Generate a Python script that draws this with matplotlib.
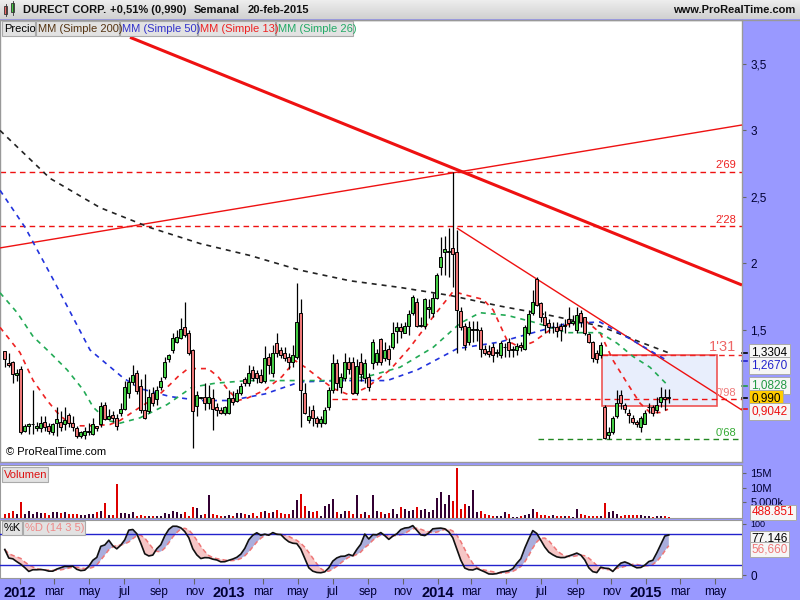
import numpy as np
import pandas as pd
import matplotlib
matplotlib.use("Agg")
import matplotlib.pyplot as plt
from matplotlib.patches import Rectangle

plt.rcParams['font.family'] = ['Liberation Sans', 'DejaVu Sans']

# ---------------- data ----------------
title_parts = ["DURECT CORP.", "+0,51% (0,990)", "Semanal", "20-feb-2015"]
last_date = "2015-02-20"

opens = [
1.34,1.25,1.26,1.16,1.21,0.74,0.78,0.79,0.76,0.76,
0.81,0.78,0.73,0.80,0.81,0.79,0.86,0.80,0.76,0.70,
0.71,0.73,0.72,0.78,0.79,0.94,0.83,0.86,0.84,0.88,
0.91,1.03,1.11,1.18,1.08,0.90,0.89,1.03,0.98,1.07,
1.15,1.28,1.35,1.41,1.44,1.52,1.48,1.35,0.93,0.99,
1.00,0.95,0.99,0.92,0.90,0.88,0.88,0.99,0.97,1.03,
1.13,1.10,1.20,1.18,1.16,1.12,1.30,1.18,1.40,1.35,
1.33,1.30,1.26,1.30,1.63,1.03,0.82,0.90,0.84,0.80,
0.80,0.92,1.05,1.25,1.07,1.14,1.26,1.26,1.03,1.26,
1.14,1.15,1.25,1.26,1.43,1.29,1.36,1.37,1.49,1.52,
1.48,1.53,1.63,1.71,1.53,1.53,1.66,1.63,1.74,1.97,
2.09,2.09,2.12,2.09,1.64,1.53,1.41,1.50,1.50,1.50,
1.36,1.34,1.37,1.33,1.31,1.37,1.41,1.35,1.35,1.39,
1.36,1.48,1.63,1.88,1.70,1.60,1.55,1.52,1.52,1.53,
1.53,1.58,1.55,1.50,1.63,1.60,1.47,1.41,1.33,1.31,
0.92,0.71,0.73,0.85,1.01,0.94,0.88,0.84,0.81,0.77,
0.79,0.92,0.92,0.90,0.96,1.00,1.00]
highs = [
1.34,1.33,1.27,1.21,1.23,0.79,0.80,1.05,0.81,0.85,
0.85,0.80,0.80,0.92,0.89,0.92,0.88,0.85,0.78,0.74,
0.77,0.80,0.84,0.78,0.96,0.96,0.91,0.89,0.87,0.95,
1.12,1.15,1.24,1.20,1.13,1.17,1.06,1.07,1.08,1.15,
1.30,1.32,1.48,1.50,1.59,1.71,1.50,1.36,1.04,1.00,
1.10,1.09,1.06,0.95,0.92,0.93,1.05,1.04,1.06,1.10,
1.15,1.24,1.23,1.20,1.21,1.38,1.33,1.39,1.48,1.37,
1.37,1.33,1.39,1.85,1.73,1.10,0.93,0.94,0.85,0.85,
0.92,1.07,1.32,1.28,1.18,1.33,1.30,1.30,1.28,1.33,
1.28,1.18,1.43,1.36,1.44,1.41,1.39,1.56,1.56,1.55,
1.56,1.65,1.76,1.74,1.60,1.74,1.73,1.78,1.93,2.20,
2.21,2.27,2.69,2.25,1.67,1.55,1.57,1.57,1.57,1.52,
1.39,1.39,1.40,1.36,1.42,1.40,1.44,1.38,1.40,1.41,
1.54,1.65,1.80,1.90,1.71,1.64,1.58,1.56,1.56,1.55,
1.58,1.67,1.61,1.67,1.65,1.60,1.48,1.42,1.35,1.41,
0.94,0.77,0.85,1.05,1.05,0.95,0.91,0.86,0.82,0.85,
0.90,0.95,0.94,1.00,1.07,1.06,1.06]
lows = [
1.22,1.22,1.10,1.12,0.72,0.73,0.72,0.72,0.74,0.73,
0.74,0.72,0.71,0.70,0.74,0.75,0.77,0.74,0.69,0.69,
0.68,0.71,0.71,0.74,0.77,0.82,0.82,0.81,0.75,0.85,
0.90,0.99,1.09,1.02,0.88,0.83,0.88,0.93,0.94,1.05,
1.13,1.26,1.33,1.40,1.43,1.45,1.31,0.61,0.85,0.98,
0.90,0.91,0.75,0.85,0.87,0.86,0.87,0.94,0.96,1.01,
1.08,1.08,1.12,1.10,1.10,1.10,1.17,1.15,1.30,1.29,
1.27,1.21,1.22,1.28,0.77,0.87,0.80,0.78,0.77,0.77,
0.79,0.90,1.03,1.05,1.03,1.12,1.17,1.02,1.01,1.12,
1.10,1.04,1.21,1.24,1.24,1.27,1.24,1.36,1.40,1.44,
1.48,1.46,1.61,1.52,1.52,1.51,1.59,1.60,1.73,1.91,
1.91,1.90,1.82,1.33,1.50,1.35,1.39,1.41,1.42,1.30,
1.31,1.30,1.26,1.30,1.29,1.30,1.30,1.30,1.31,1.34,
1.35,1.46,1.61,1.68,1.56,1.48,1.48,1.48,1.45,1.42,
1.48,1.52,1.54,1.48,1.52,1.46,1.40,1.26,1.25,1.29,
0.68,0.68,0.72,0.84,0.91,0.88,0.80,0.79,0.77,0.73,
0.79,0.88,0.85,0.88,0.92,0.90,0.95]
closes = [
1.28,1.24,1.17,1.18,0.73,0.78,0.79,0.79,0.78,0.80,
0.77,0.74,0.79,0.83,0.77,0.82,0.80,0.77,0.70,0.73,
0.74,0.74,0.79,0.76,0.93,0.83,0.85,0.84,0.78,0.91,
1.07,1.11,1.16,1.04,0.90,0.84,1.00,0.95,1.05,1.12,
1.26,1.31,1.44,1.45,1.51,1.46,1.33,0.89,1.01,1.00,
0.95,1.00,0.91,0.90,0.88,0.92,0.99,0.96,1.03,1.08,
1.10,1.18,1.14,1.14,1.11,1.29,1.24,1.33,1.33,1.31,
1.29,1.26,1.31,1.56,1.05,0.88,0.85,0.84,0.80,0.83,
0.90,1.05,1.25,1.10,1.15,1.26,1.21,1.03,1.23,1.17,
1.25,1.07,1.41,1.33,1.26,1.35,1.28,1.48,1.52,1.49,
1.53,1.62,1.75,1.53,1.53,1.73,1.67,1.74,1.91,2.05,
2.11,2.09,2.07,1.65,1.52,1.39,1.52,1.50,1.51,1.36,
1.33,1.32,1.31,1.33,1.40,1.37,1.35,1.35,1.38,1.37,
1.52,1.62,1.71,1.69,1.60,1.54,1.52,1.52,1.49,1.50,
1.53,1.55,1.57,1.61,1.56,1.48,1.41,1.29,1.28,1.39,
0.69,0.73,0.84,0.95,0.95,0.91,0.86,0.81,0.79,0.84,
0.88,0.92,0.88,0.94,1.00,0.985,0.99]
volume_m = [
1.3,1.7,2.4,1.3,5.2,1.3,2.2,1.3,1.9,1.7,
1.7,1.1,1.9,1.9,1.7,1.9,1.3,1.3,1.3,1.1,
1.1,1.3,1.3,1.9,2.2,5.0,1.1,1.1,11.3,1.7,
1.7,1.3,1.9,0.8,1.1,0.8,0.6,0.8,0.6,0.8,
1.7,1.3,2.2,1.9,1.3,1.9,0.8,3.6,3.3,1.1,
1.3,7.6,1.3,1.1,0.8,0.8,1.1,0.8,1.7,1.7,
1.3,1.1,1.7,0.8,1.9,2.4,1.7,1.9,2.8,1.7,
1.3,1.3,2.8,6.1,8.0,4.1,2.4,1.9,2.2,0.6,
4.1,4.7,6.3,1.9,1.3,2.4,2.2,1.3,7.6,1.3,
1.9,1.1,7.6,2.4,1.9,1.3,1.7,3.0,1.3,3.6,
3.1,2.4,2.8,3.6,2.8,3.1,1.9,2.6,6.7,8.6,
4.7,7.8,5.6,16.7,3.1,4.7,3.9,9.2,1.9,2.4,
1.4,1.1,0.8,0.6,0.6,1.9,1.3,0.2,0.2,0.6,
1.1,1.4,3.1,1.9,1.1,1.1,0.8,1.1,0.8,0.6,
0.8,0.6,0.2,3.1,1.4,1.1,0.8,0.8,0.6,0.6,
5.0,1.9,2.4,1.4,0.6,1.1,1.1,1.1,1.1,1.1,
0.6,0.6,0.2,0.6,0.6,0.6,0.488851]

# moving averages (week number since first bar, value)
ma200_wk = [-1.2, 11.3, 23.8, 36.3, 48.8, 61.3, 73.8, 86.3, 98.8, 111.3, 123.8, 136.3, 148.8, 158.8, 165.8]
ma200_val = [3.00, 2.64, 2.42, 2.27, 2.15, 2.06, 1.95, 1.87, 1.82, 1.76, 1.68, 1.61, 1.53, 1.41, 1.3304]
ma50_wk = [-1.2, 5.1, 12.1, 21.3, 29.6, 33.8, 41.3, 48.8, 56.3, 65.1, 73.8, 83.8, 95.6, 103.1, 113.1, 123.8, 132.1, 140.6, 148.8, 157.1, 165.8]
ma50_val = [2.55, 2.27, 1.88, 1.35, 1.14, 1.06, 1.00, 0.97, 0.97, 1.02, 1.11, 1.12, 1.12, 1.20, 1.36, 1.41, 1.48, 1.55, 1.56, 1.42, 1.267]
ma13_wk = [-1.2, 3.8, 7.1, 10.6, 13.1, 15.6, 18.1, 22.1, 26.3, 28.8, 33.8, 38.1, 41.3, 43.3, 45.8, 50.8, 53.3, 55.8, 58.3, 60.8,
           65.1, 69.3, 72.6, 75.1, 78.1, 82.1, 86.3, 90.6, 96.3, 101.3, 107.1, 112.1, 115.6, 119.6, 122.1, 125.6, 128.8, 132.1,
           136.3, 140.6, 145.6, 148.8, 152.1, 155.6, 158.8, 161.3, 163.8, 165.8]
ma13_val = [1.52, 1.33, 1.12, 0.97, 0.88, 0.81, 0.78, 0.78, 0.79, 0.82, 0.92, 1.00, 1.09, 1.15, 1.21, 1.21, 1.15, 1.05, 0.97, 0.99,
            1.05, 1.15, 1.27, 1.22, 1.15, 1.06, 1.01, 1.07, 1.20, 1.37, 1.60, 1.79, 1.76, 1.73, 1.65, 1.42, 1.37, 1.41,
            1.50, 1.54, 1.56, 1.48, 1.27, 1.10, 0.95, 0.88, 0.88, 0.9042]
ma26_wk = [-1.2, 3.1, 7.1, 11.3, 15.6, 19.6, 22.1, 25.6, 28.8, 33.8, 40.6, 46.8, 52.6, 60.8, 69.3, 81.8, 90.6, 98.8, 107.1,
           113.8, 118.8, 125.6, 132.1, 140.6, 148.8, 153.1, 157.1, 161.3, 165.8]
ma26_val = [1.78, 1.63, 1.45, 1.33, 1.20, 1.05, 0.92, 0.82, 0.80, 0.84, 0.94, 1.07, 1.10, 1.12, 1.12, 1.12, 1.15, 1.22, 1.37,
            1.55, 1.63, 1.61, 1.56, 1.48, 1.48, 1.40, 1.30, 1.22, 1.0828]

# drawn trendlines
trend_wk0 = [31.3, -1.2, 113.0]
trend_p0 = [3.70, 2.117, 2.267]
trend_wk1 = [184.3, 184.3, 184.3]
trend_p1 = [1.838, 3.041, 0.898]
trend_lw = [2.2, 1.0, 1.0]

# horizontal levels
level_val = [2.69, 2.28, 1.31, 0.98, 0.68]
level_label = ["2'69", "2'28", "1'31", "0'98", "0'68"]
level_start_wk = [-1.2, -1.2, 149.3, 81.8, 133.3]
level_color = ['#ee1111', '#ee1111', '#ee2222', '#ee1111', '#228822']
level_text_color = ['#ee2222', '#ee2222', '#ee6666', '#ee7777', '#33aa33']

# range box
box_wk = [149.3, 178.1]
box_price = [0.93, 1.31]

# last values shown on the right axis
last_vals = [1.3304, 1.2670, 1.0828, 0.990, 0.9042]
last_txt = ['1,3304', '1,2670', '1,0828', '0,990', '0,9042']
last_col = ['#000000', '#2222cc', '#229944', '#000000', '#ee1111']
vol_last_txt = '488.851'
stoch_last_txt = ['77,146', '56,660']

legend_tabs = ["Precio", "MM (Simple 200)", "MM (Simple 50)", "MM (Simple 13)", "MM (Simple 26)"]
legend_cols = ['#000000', '#553311', '#3333cc', '#ee2222', '#22aa66']

month_names = {1: None, 3: 'mar', 5: 'may', 7: 'jul', 9: 'sep', 11: 'nov'}

# ---------------- derived ----------------
n = len(closes)
dates = pd.date_range(end=last_date, periods=n, freq='W-FRI')
wk = np.arange(n)
o = np.array(opens); h = np.array(highs); l = np.array(lows); c = np.array(closes)
up = c >= o

sh, sl, sc = pd.Series(h), pd.Series(l), pd.Series(c)
hh = sh.rolling(14, min_periods=1).max()
ll = sl.rolling(14, min_periods=1).min()
raw = 100 * (sc - ll) / (hh - ll)
stoch_k = raw.rolling(3, min_periods=1).mean().values
stoch_d = pd.Series(stoch_k).rolling(5, min_periods=1).mean().values

XL = (-1.2, 184.3)
LAV = '#9999ff'
BOXFC = '#f6f6f6'

fig = plt.figure(figsize=(8, 6), dpi=100, facecolor=LAV)

def rect_px(x0, y0, x1, y1):
    return [x0 / 800, 1 - y1 / 600, (x1 - x0) / 800, (y1 - y0) / 600]

# title bar
axt = fig.add_axes(rect_px(0, 0, 800, 19))
grad = np.linspace(0.93, 0.82, 19)[:, None, None] * np.ones((19, 2, 3))
axt.imshow(grad, aspect='auto', extent=(0, 800, 19, 0))
axt.set_xlim(0, 800); axt.set_ylim(19, 0)
axt.axis('off')
axt.add_patch(Rectangle((4, 6), 3, 8, fc='#ee6666', ec='#333333', lw=0.6))
axt.plot([5.5, 5.5], [4, 16], color='#333333', lw=0.6)
axt.add_patch(Rectangle((11, 3), 3, 9, fc='#44cc44', ec='#333333', lw=0.6))
axt.plot([12.5, 12.5], [1, 15], color='#333333', lw=0.6)
for xp, t in zip([23, 110, 194, 248], title_parts):
    axt.text(xp, 10, t, fontsize=8, fontweight='bold', va='center', ha='left', color='#111111')
axt.text(795, 10, "www.ProRealTime.com", fontsize=8, fontweight='bold', va='center', ha='right', color='#111111')
fig.add_artist(plt.Line2D([0, 1], [1 - 19.5 / 600] * 2, color='#999999', lw=1, transform=fig.transFigure))

# ---------------- price panel ----------------
ax = fig.add_axes(rect_px(0, 20, 742, 462))
ax.set_facecolor('white')
ax.set_xlim(*XL)
ax.set_ylim(0.508, 3.83)
for s in ax.spines.values():
    s.set_color('#999999'); s.set_linewidth(1)
ax.set_xticks([])
ax.yaxis.tick_right()
yt = [1.5, 2, 2.5, 3, 3.5]
ax.set_yticks(yt)
ax.set_yticklabels([('%g' % v).replace('.', ',') for v in yt])
ax.tick_params(axis='y', length=3, color='#666666', labelsize=8.5, pad=3, labelcolor='#000033')

ax.add_patch(Rectangle((box_wk[0], box_price[0]), box_wk[1] - box_wk[0], box_price[1] - box_price[0],
                       fc='#e8eefc', ec='#ee5555', lw=1.2, zorder=1))

for v, s0, col in zip(level_val, level_start_wk, level_color):
    ax.plot([s0, XL[1]], [v, v], color=col, lw=1, ls=(0, (4, 3)), zorder=2)
for v, lab, tc in zip(level_val, level_label, level_text_color):
    big = lab == "1'31"
    ax.text(182.8, v + 0.012, lab, color=tc, fontsize=10.5 if big else 8, ha='right', va='bottom', zorder=6)

for x0, p0, x1, p1, lw in zip(trend_wk0, trend_p0, trend_wk1, trend_p1, trend_lw):
    ax.plot([x0, x1], [p0, p1], color='#ee1111', lw=lw, zorder=3, solid_capstyle='butt')

for xs, ys, col in [(ma200_wk, ma200_val, '#222222'), (ma50_wk, ma50_val, '#2233dd'),
                    (ma13_wk, ma13_val, '#ee2222'), (ma26_wk, ma26_val, '#22aa55')]:
    ax.plot(xs, ys, color=col, lw=1.2, ls=(0, (3, 3)), zorder=3)

# candles
ax.vlines(wk, l, h, color='black', lw=0.9, zorder=4)
body_h = np.maximum(np.abs(c - o), 0.004)
ax.bar(wk, body_h, bottom=np.minimum(o, c), width=0.72,
       color=np.where(up, '#44cc44', '#ee7777'), edgecolor='black', linewidth=0.7, zorder=5)

ax.text(0.3, 0.545, "© ProRealTime.com", fontsize=8, ha='left', va='bottom', color='#000000', zorder=6)

# right-axis value boxes, pushed apart so they do not overlap
ytr = ax.get_yaxis_transform()
min_gap = 0.098
label_y = []
for v in last_vals:
    y = v if not label_y else min(v, label_y[-1] - min_gap)
    label_y.append(y)
for v, ly, t, col in zip(last_vals, label_y, last_txt, last_col):
    fc = '#ffcc00' if t == '0,990' else BOXFC
    ax.plot([1.0, 1.007], [v, v], color=col, lw=1.2, transform=ytr, clip_on=False)
    ax.text(1.0125, ly, t, transform=ytr, color=col, fontsize=8.5, va='center', ha='left', clip_on=False, zorder=10,
            bbox=dict(boxstyle='square,pad=0.2', fc=fc, ec='#aaaaaa', lw=0.7))

# legend tabs
tab_x = [2, 36, 120, 198, 276, 354]
for i, (lab, col) in enumerate(zip(legend_tabs, legend_cols)):
    fig.add_artist(Rectangle((tab_x[i] / 800, 1 - 36 / 600), (tab_x[i + 1] - tab_x[i] - 1) / 800, 15 / 600,
                             transform=fig.transFigure, fc='#e2e2e2', ec='#aaaaaa', lw=0.8, zorder=5))
    fig.text((tab_x[i] + 2) / 800, 1 - 28.5 / 600, lab, color=col, fontsize=8, va='center', ha='left', zorder=6)

# ---------------- volume panel ----------------
axv = fig.add_axes(rect_px(0, 465, 742, 518))
axv.set_facecolor('white')
axv.set_xlim(*XL)
axv.set_ylim(0, 17.67)
for s in axv.spines.values():
    s.set_color('#999999')
axv.set_xticks([])
axv.bar(wk, volume_m, width=0.5, color=np.where(up, '#330033', '#dd0000'), zorder=3)
axv.yaxis.tick_right()
axv.set_yticks([5.4, 10, 15])
axv.set_yticklabels(['5.000k', '10M', '15M'])
axv.tick_params(axis='y', length=3, color='#666666', labelsize=8, pad=3, labelcolor='#000033')
vtr = axv.get_yaxis_transform()
axv.text(1.0125, 1.9, vol_last_txt, transform=vtr, color='#ee1111', fontsize=8.5, va='center', ha='left', clip_on=False,
         zorder=10, bbox=dict(boxstyle='square,pad=0.15', fc=BOXFC, ec='#aaaaaa', lw=0.7))
fig.add_artist(Rectangle((2 / 800, 1 - 482 / 600), 46 / 800, 15 / 600, transform=fig.transFigure,
                         fc='#e2e2e2', ec='#aaaaaa', lw=0.8, zorder=5))
fig.text(4 / 800, 1 - 474.5 / 600, "Volumen", color='#dd1111', fontsize=8, va='center', ha='left', zorder=6)

# ---------------- stochastic panel ----------------
axs = fig.add_axes(rect_px(0, 520, 742, 578))
axs.set_facecolor('white')
axs.set_xlim(*XL)
axs.set_ylim(-5.2, 107)
for s in axs.spines.values():
    s.set_color('#999999')
axs.fill_between(wk, stoch_k, stoch_d, where=stoch_k >= stoch_d, interpolate=True, color='#aaaedd', lw=0, zorder=2)
axs.fill_between(wk, stoch_k, stoch_d, where=stoch_k < stoch_d, interpolate=True, color='#f6c6c6', lw=0, zorder=2)
axs.plot(wk, stoch_d, color='#ee7777', lw=1.1, ls=(0, (3, 2)), zorder=3)
axs.plot(wk, stoch_k, color='#111111', lw=1.2, zorder=4)
axs.axhline(80, color='#2222cc', lw=1, zorder=3)
axs.axhline(20, color='#2222cc', lw=1, zorder=3)
axs.yaxis.tick_right()
axs.set_yticks([0, 100])
axs.set_yticklabels(['0', '100'])
axs.tick_params(axis='y', length=3, color='#666666', labelsize=8.5, pad=3, labelcolor='#000033')
axs.get_yticklabels()[1].set_fontsize(6.5)
strn = axs.get_yaxis_transform()
axs.text(1.0125, stoch_k[-1] - 7, stoch_last_txt[0], transform=strn, color='#000000', fontsize=8.5, va='center', ha='left',
         clip_on=False, zorder=10, bbox=dict(boxstyle='square,pad=0.15', fc=BOXFC, ec='#aaaaaa', lw=0.7))
axs.text(1.0125, stoch_d[-1] - 7, stoch_last_txt[1], transform=strn, color='#ee7777', fontsize=8.5, va='center', ha='left',
         clip_on=False, zorder=10, bbox=dict(boxstyle='square,pad=0.15', fc=BOXFC, ec='#aaaaaa', lw=0.7))
fig.add_artist(Rectangle((2 / 800, 1 - 535 / 600), 20 / 800, 14 / 600, transform=fig.transFigure,
                         fc='#e2e2e2', ec='#aaaaaa', lw=0.8, zorder=5))
fig.text(4 / 800, 1 - 528 / 600, "%K", color='#000000', fontsize=8, va='center', ha='left', zorder=6)
fig.add_artist(Rectangle((23 / 800, 1 - 535 / 600), 62 / 800, 14 / 600, transform=fig.transFigure,
                         fc='#e2e2e2', ec='#aaaaaa', lw=0.8, zorder=5))
fig.text(25 / 800, 1 - 528 / 600, "%D (14 3 5)", color='#ee8888', fontsize=8, va='center', ha='left', zorder=6)

# date axis
months = pd.date_range('2012-01-01', '2015-05-01', freq='MS')
tpos, tlab, tbold = [], [], []
for m in months:
    if m.month in month_names:
        tpos.append((m - dates[0]).days / 7 + 1.5)
        tlab.append(str(m.year) if m.month == 1 else month_names[m.month])
        tbold.append(m.month == 1)
axs.set_xticks(tpos)
axs.set_xticklabels(tlab)
axs.tick_params(axis='x', length=4, color='#666666', labelsize=8.5, pad=2, labelcolor='#000033')
for lbl, b in zip(axs.get_xticklabels(), tbold):
    if b:
        lbl.set_fontweight('bold'); lbl.set_fontsize(10.5)

fig.savefig('out.png', dpi=100, facecolor=LAV)
